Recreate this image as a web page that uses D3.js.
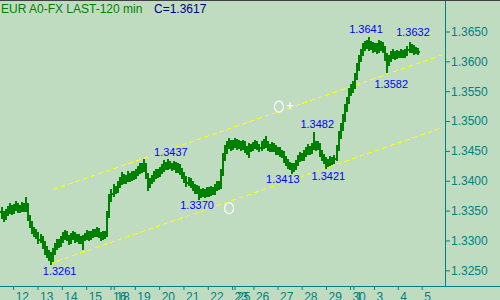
<!DOCTYPE html>
<html>
<head>
<meta charset="utf-8">
<script src="https://cdn.jsdelivr.net/npm/d3@7"></script>
<style>
  html, body { margin: 0; padding: 0; background: #c0dcc0; }
  #chart { width: 500px; height: 300px; overflow: hidden; }
  svg { display: block; }
</style>
</head>
<body>
<div id="chart"></div>
<script>
// EUR A0-FX, 120 minute bars
const opens = [
  1.3350, 1.3345, 1.3340, 1.3348, 1.3352, 1.3355, 1.3350, 1.3356, 1.3360, 1.3352,
  1.3356, 1.3358, 1.3354, 1.3360, 1.3340, 1.3328, 1.3318, 1.3315, 1.3310, 1.3302,
  1.3305, 1.3295, 1.3285, 1.3280, 1.3275, 1.3270, 1.3282, 1.3290, 1.3298, 1.3295,
  1.3302, 1.3308, 1.3312, 1.3305, 1.3300, 1.3308, 1.3310, 1.3304, 1.3306, 1.3300,
  1.3302, 1.3305, 1.3308, 1.3312, 1.3306, 1.3310, 1.3315, 1.3312, 1.3318, 1.3310,
  1.3306, 1.3312, 1.3310, 1.3345, 1.3372, 1.3380, 1.3388, 1.3385, 1.3395, 1.3400,
  1.3408, 1.3402, 1.3405, 1.3410, 1.3405, 1.3412, 1.3408, 1.3414, 1.3418, 1.3425,
  1.3420, 1.3428, 1.3410, 1.3395, 1.3400, 1.3405, 1.3410, 1.3415, 1.3412, 1.3418,
  1.3422, 1.3428, 1.3425, 1.3430, 1.3426, 1.3424, 1.3428, 1.3420, 1.3425, 1.3418,
  1.3410, 1.3405, 1.3398, 1.3402, 1.3395, 1.3390, 1.3385, 1.3388, 1.3382, 1.3378,
  1.3382, 1.3378, 1.3385, 1.3380, 1.3386, 1.3382, 1.3388, 1.3395, 1.3392, 1.3415,
  1.3440, 1.3452, 1.3460, 1.3465, 1.3458, 1.3462, 1.3466, 1.3460, 1.3462, 1.3458,
  1.3464, 1.3455, 1.3450, 1.3458, 1.3455, 1.3460, 1.3462, 1.3458, 1.3456, 1.3460,
  1.3465, 1.3462, 1.3458, 1.3455, 1.3460, 1.3456, 1.3450, 1.3452, 1.3448, 1.3445,
  1.3438, 1.3432, 1.3428, 1.3425, 1.3420, 1.3425, 1.3430, 1.3438, 1.3442, 1.3440,
  1.3446, 1.3450, 1.3455, 1.3450, 1.3458, 1.3462, 1.3458, 1.3460, 1.3448, 1.3440,
  1.3435, 1.3430, 1.3432, 1.3436, 1.3433, 1.3438, 1.3455, 1.3478, 1.3490, 1.3505,
  1.3522, 1.3535, 1.3550, 1.3555, 1.3560, 1.3575, 1.3590, 1.3605, 1.3615, 1.3625,
  1.3628, 1.3630, 1.3625, 1.3628, 1.3622, 1.3626, 1.3620, 1.3625, 1.3628, 1.3622,
  1.3610, 1.3600, 1.3605, 1.3612, 1.3615, 1.3610, 1.3614, 1.3612, 1.3616, 1.3612,
  1.3615, 1.3620, 1.3622, 1.3625, 1.3618, 1.3620
];
const highs = [
  1.3356, 1.3350, 1.3353, 1.3358, 1.3362, 1.3360, 1.3361, 1.3366, 1.3363, 1.3360,
  1.3364, 1.3362, 1.3373, 1.3362, 1.3343, 1.3332, 1.3322, 1.3320, 1.3314, 1.3310,
  1.3308, 1.3299, 1.3290, 1.3284, 1.3280, 1.3287, 1.3295, 1.3303, 1.3302, 1.3308,
  1.3314, 1.3318, 1.3316, 1.3309, 1.3312, 1.3316, 1.3314, 1.3311, 1.3310, 1.3307,
  1.3309, 1.3313, 1.3318, 1.3316, 1.3315, 1.3320, 1.3319, 1.3323, 1.3321, 1.3314,
  1.3316, 1.3316, 1.3350, 1.3378, 1.3386, 1.3394, 1.3392, 1.3400, 1.3406, 1.3414,
  1.3412, 1.3410, 1.3416, 1.3413, 1.3417, 1.3416, 1.3419, 1.3424, 1.3430, 1.3429,
  1.3437, 1.3430, 1.3413, 1.3405, 1.3410, 1.3416, 1.3420, 1.3419, 1.3423, 1.3428,
  1.3434, 1.3432, 1.3436, 1.3433, 1.3430, 1.3433, 1.3431, 1.3430, 1.3428, 1.3421,
  1.3414, 1.3408, 1.3407, 1.3405, 1.3399, 1.3394, 1.3393, 1.3391, 1.3386, 1.3388,
  1.3386, 1.3390, 1.3389, 1.3391, 1.3390, 1.3394, 1.3400, 1.3399, 1.3420, 1.3446,
  1.3460, 1.3467, 1.3471, 1.3469, 1.3468, 1.3472, 1.3470, 1.3468, 1.3466, 1.3469,
  1.3467, 1.3459, 1.3463, 1.3462, 1.3465, 1.3468, 1.3466, 1.3462, 1.3466, 1.3470,
  1.3475, 1.3466, 1.3462, 1.3465, 1.3464, 1.3460, 1.3457, 1.3456, 1.3452, 1.3449,
  1.3442, 1.3436, 1.3432, 1.3429, 1.3430, 1.3435, 1.3443, 1.3448, 1.3447, 1.3451,
  1.3456, 1.3461, 1.3459, 1.3463, 1.3482, 1.3466, 1.3467, 1.3463, 1.3452, 1.3444,
  1.3439, 1.3437, 1.3441, 1.3440, 1.3443, 1.3460, 1.3483, 1.3496, 1.3512, 1.3528,
  1.3541, 1.3556, 1.3562, 1.3567, 1.3581, 1.3597, 1.3611, 1.3621, 1.3631, 1.3634,
  1.3636, 1.3641, 1.3634, 1.3632, 1.3631, 1.3630, 1.3635, 1.3634, 1.3632, 1.3625,
  1.3614, 1.3611, 1.3618, 1.3620, 1.3618, 1.3619, 1.3618, 1.3621, 1.3619, 1.3620,
  1.3625, 1.3632, 1.3629, 1.3627, 1.3624, 1.3623
];
const lows = [
  1.3338, 1.3333, 1.3336, 1.3343, 1.3346, 1.3344, 1.3346, 1.3351, 1.3347, 1.3348,
  1.3350, 1.3349, 1.3350, 1.3335, 1.3322, 1.3312, 1.3308, 1.3304, 1.3296, 1.3297,
  1.3288, 1.3278, 1.3272, 1.3268, 1.3261, 1.3266, 1.3278, 1.3285, 1.3289, 1.3291,
  1.3297, 1.3303, 1.3300, 1.3294, 1.3296, 1.3303, 1.3298, 1.3299, 1.3295, 1.3296,
  1.3285, 1.3300, 1.3303, 1.3301, 1.3302, 1.3305, 1.3307, 1.3308, 1.3305, 1.3301,
  1.3302, 1.3304, 1.3307, 1.3340, 1.3366, 1.3375, 1.3379, 1.3381, 1.3390, 1.3395,
  1.3396, 1.3397, 1.3400, 1.3399, 1.3401, 1.3403, 1.3404, 1.3409, 1.3413, 1.3414,
  1.3416, 1.3404, 1.3385, 1.3390, 1.3396, 1.3400, 1.3405, 1.3406, 1.3408, 1.3413,
  1.3417, 1.3419, 1.3420, 1.3421, 1.3418, 1.3419, 1.3414, 1.3415, 1.3412, 1.3404,
  1.3398, 1.3392, 1.3393, 1.3389, 1.3384, 1.3379, 1.3380, 1.3370, 1.3373, 1.3374,
  1.3373, 1.3374, 1.3375, 1.3376, 1.3377, 1.3378, 1.3384, 1.3386, 1.3388, 1.3410,
  1.3435, 1.3447, 1.3455, 1.3452, 1.3453, 1.3457, 1.3454, 1.3455, 1.3452, 1.3453,
  1.3448, 1.3444, 1.3440, 1.3449, 1.3451, 1.3455, 1.3453, 1.3450, 1.3451, 1.3455,
  1.3457, 1.3452, 1.3449, 1.3450, 1.3450, 1.3444, 1.3445, 1.3442, 1.3439, 1.3432,
  1.3426, 1.3422, 1.3419, 1.3413, 1.3416, 1.3420, 1.3426, 1.3433, 1.3434, 1.3435,
  1.3441, 1.3445, 1.3444, 1.3446, 1.3453, 1.3452, 1.3453, 1.3442, 1.3434, 1.3429,
  1.3421, 1.3425, 1.3427, 1.3428, 1.3429, 1.3434, 1.3451, 1.3472, 1.3485, 1.3500,
  1.3516, 1.3530, 1.3544, 1.3549, 1.3555, 1.3570, 1.3585, 1.3600, 1.3610, 1.3619,
  1.3622, 1.3619, 1.3620, 1.3616, 1.3617, 1.3614, 1.3615, 1.3619, 1.3616, 1.3603,
  1.3582, 1.3594, 1.3600, 1.3606, 1.3604, 1.3605, 1.3607, 1.3607, 1.3607, 1.3608,
  1.3610, 1.3615, 1.3616, 1.3613, 1.3614, 1.3612
];
const closes = [
  1.3345, 1.3340, 1.3348, 1.3352, 1.3355, 1.3350, 1.3356, 1.3360, 1.3352, 1.3356,
  1.3358, 1.3354, 1.3360, 1.3340, 1.3328, 1.3318, 1.3315, 1.3310, 1.3302, 1.3305,
  1.3295, 1.3285, 1.3280, 1.3275, 1.3270, 1.3282, 1.3290, 1.3298, 1.3295, 1.3302,
  1.3308, 1.3312, 1.3305, 1.3300, 1.3308, 1.3310, 1.3304, 1.3306, 1.3300, 1.3302,
  1.3305, 1.3308, 1.3312, 1.3306, 1.3310, 1.3315, 1.3312, 1.3318, 1.3310, 1.3306,
  1.3312, 1.3310, 1.3345, 1.3372, 1.3380, 1.3388, 1.3385, 1.3395, 1.3400, 1.3408,
  1.3402, 1.3405, 1.3410, 1.3405, 1.3412, 1.3408, 1.3414, 1.3418, 1.3425, 1.3420,
  1.3428, 1.3410, 1.3395, 1.3400, 1.3405, 1.3410, 1.3415, 1.3412, 1.3418, 1.3422,
  1.3428, 1.3425, 1.3430, 1.3426, 1.3424, 1.3428, 1.3420, 1.3425, 1.3418, 1.3410,
  1.3405, 1.3398, 1.3402, 1.3395, 1.3390, 1.3385, 1.3388, 1.3382, 1.3378, 1.3382,
  1.3378, 1.3385, 1.3380, 1.3386, 1.3382, 1.3388, 1.3395, 1.3392, 1.3415, 1.3440,
  1.3452, 1.3460, 1.3465, 1.3458, 1.3462, 1.3466, 1.3460, 1.3462, 1.3458, 1.3464,
  1.3455, 1.3450, 1.3458, 1.3455, 1.3460, 1.3462, 1.3458, 1.3456, 1.3460, 1.3465,
  1.3462, 1.3458, 1.3455, 1.3460, 1.3456, 1.3450, 1.3452, 1.3448, 1.3445, 1.3438,
  1.3432, 1.3428, 1.3425, 1.3420, 1.3425, 1.3430, 1.3438, 1.3442, 1.3440, 1.3446,
  1.3450, 1.3455, 1.3450, 1.3458, 1.3462, 1.3458, 1.3460, 1.3448, 1.3440, 1.3435,
  1.3430, 1.3432, 1.3436, 1.3433, 1.3438, 1.3455, 1.3478, 1.3490, 1.3505, 1.3522,
  1.3535, 1.3550, 1.3555, 1.3560, 1.3575, 1.3590, 1.3605, 1.3615, 1.3625, 1.3628,
  1.3630, 1.3625, 1.3628, 1.3622, 1.3626, 1.3620, 1.3625, 1.3628, 1.3622, 1.3610,
  1.3600, 1.3605, 1.3612, 1.3615, 1.3610, 1.3614, 1.3612, 1.3616, 1.3612, 1.3615,
  1.3620, 1.3622, 1.3625, 1.3618, 1.3620, 1.3617
];

// day boundaries, as bar positions
const dayLabels = ['12', '13', '14', '15', '16', '18', '19', '20', '21', '22', '23',
                   '25', '26', '27', '28', '29', '30', '1', '3', '4', '5'];
const dayStarts = [6, 18, 30, 42, 54, 55.6, 66, 78, 90, 102, 114,
                   115.2, 124.5, 136.4, 148.3, 160.3, 172.1, 173.8, 184, 195.7, 207.5];

const priceTicks = [1.3250, 1.3300, 1.3350, 1.3400, 1.3450, 1.3500, 1.3550, 1.3600, 1.3650];

// marked highs / lows
const extremeBars = [24, 97, 70, 143, 160, 154, 181, 201, 190];
const extremePrices = [1.3261, 1.3370, 1.3437, 1.3413, 1.3421, 1.3482, 1.3641, 1.3632, 1.3582];

// channel lines: [bar, price] -> [bar, price]
const trendLines = [
  [[24, 1.3261], [216, 1.3487]],
  [[25.6, 1.3385], [218, 1.3611]]
];

// hand-drawn markers
const markerBars = [137.1, 112.5];
const markerPrices = [1.3524, 1.3354];
const markerPlus = [true, false];

/* layout */
const width = 500;
const height = 300;
const axisX = 445;
const axisY = 286;
const bg = '#c0dcc0';
const teal = '#008080';
const font = '"Liberation Sans", Arial, sans-serif';
// label offsets from the marked bar (px)
const labelDx = [10, -0.6, 28, -8, 3, 4, -2, 4.5, 5];
const labelDy = [11.3, 10.8, -2.7, 10.5, 12, -3.3, -3.4, -6.5, 16];

const svg = d3.select('#chart')
    .append('svg')
    .attr('width', width)
    .attr('height', height)
    .attr('viewBox', `0 0 ${width} ${height}`)
    .style('font-family', font);

svg.append('rect')
    .attr('width', width)
    .attr('height', height)
    .attr('fill', bg);

const x = d3.scaleLinear().domain([0, 219]).range([1, axisX]);
const y = d3.scaleLinear().domain([1.3250, 1.3650]).range([270.3, 31.5]);

/* channel lines */
svg.append('g')
    .attr('shape-rendering', 'crispEdges')
    .selectAll('line')
    .data(trendLines)
    .join('line')
    .attr('x1', d => x(d[0][0]))
    .attr('y1', d => y(d[0][1]))
    .attr('x2', d => x(d[1][0]))
    .attr('y2', d => y(d[1][1]))
    .attr('stroke', '#ffff00')
    .attr('stroke-width', 1)
    .attr('stroke-dasharray', '5,3');

/* price bars */
const bars = closes.map((c, i) => ({ i, o: opens[i], h: highs[i], l: lows[i], c }));
const px = d => Math.round(x(d.i));
const py = v => Math.round(y(v));

const barG = svg.append('g')
    .attr('fill', '#008000')
    .attr('shape-rendering', 'crispEdges');

// high-low stroke
barG.selectAll('rect.hl')
    .data(bars)
    .join('rect')
    .attr('class', 'hl')
    .attr('x', px)
    .attr('width', 2)
    .attr('y', d => py(d.h))
    .attr('height', d => py(d.l) - py(d.h) + 1);

// open tick (left) and close tick (right)
barG.selectAll('rect.op')
    .data(bars)
    .join('rect')
    .attr('class', 'op')
    .attr('x', d => px(d) - 1)
    .attr('width', 1)
    .attr('y', d => py(d.o))
    .attr('height', 2);

barG.selectAll('rect.cl')
    .data(bars)
    .join('rect')
    .attr('class', 'cl')
    .attr('x', d => px(d) + 2)
    .attr('width', 1)
    .attr('y', d => py(d.c))
    .attr('height', 2);

/* high / low labels, boxed so the channel lines stop behind them */
const labels = svg.append('g');
extremeBars.forEach((b, k) => {
    const lg = labels.append('g');
    const t = lg.append('text')
        .attr('x', x(b) + labelDx[k])
        .attr('y', y(extremePrices[k]) + labelDy[k])
        .attr('text-anchor', 'middle')
        .attr('font-size', 11)
        .attr('fill', '#0000ff')
        .text(extremePrices[k].toFixed(4));
    const bb = t.node().getBBox();
    lg.insert('rect', 'text')
        .attr('x', bb.x - 1)
        .attr('y', bb.y + 1)
        .attr('width', bb.width + 2)
        .attr('height', bb.height - 2)
        .attr('fill', bg);
});

/* markers */
markerBars.forEach((b, k) => {
    const cx = x(b);
    const cy = y(markerPrices[k]);
    svg.append('ellipse')
        .attr('cx', cx)
        .attr('cy', cy)
        .attr('rx', 4.5)
        .attr('ry', 5.5)
        .attr('fill', bg)
        .attr('stroke', '#ffffff')
        .attr('stroke-width', 1.2);
    if (markerPlus[k]) {
        svg.append('path')
            .attr('d', `M${cx + 7.5},${cy - 1}h7M${cx + 11},${cy - 4.5}v7`)
            .attr('stroke', '#ffffff')
            .attr('stroke-width', 1.2);
    }
});

/* right price axis */
const yAxis = svg.append('g')
    .attr('transform', `translate(${axisX},0)`)
    .call(d3.axisRight(y)
        .tickValues(priceTicks)
        .tickFormat(d3.format('.4f'))
        .tickSize(5)
        .tickPadding(1));
yAxis.select('.domain').remove();
yAxis.selectAll('line').attr('stroke', teal);
yAxis.selectAll('text')
    .attr('fill', teal)
    .attr('font-size', 12)
    .attr('font-family', font);

svg.append('line')
    .attr('x1', axisX + 0.5)
    .attr('x2', axisX + 0.5)
    .attr('y1', 0)
    .attr('y2', axisY)
    .attr('stroke', teal);

/* bottom date axis */
const xAxis = svg.append('g')
    .attr('transform', `translate(0,${axisY})`)
    .call(d3.axisBottom(x)
        .tickValues(dayStarts)
        .tickFormat((d, i) => dayLabels[i])
        .tickSize(4)
        .tickPadding(2));
xAxis.select('.domain').remove();
xAxis.selectAll('line').attr('stroke', teal);
xAxis.selectAll('text')
    .attr('fill', teal)
    .attr('font-size', 12)
    .attr('font-family', font)
    .attr('text-anchor', 'start')
    .attr('x', 2);

svg.append('line')
    .attr('x1', 0)
    .attr('x2', width)
    .attr('y1', axisY + 0.5)
    .attr('y2', axisY + 0.5)
    .attr('stroke', teal);

// top border
svg.append('line')
    .attr('x1', 0)
    .attr('x2', width)
    .attr('y1', 0.5)
    .attr('y2', 0.5)
    .attr('stroke', '#404040');

/* title */
svg.append('text')
    .attr('x', 1)
    .attr('y', 13)
    .attr('font-size', 12)
    .attr('fill', '#008000')
    .text('EUR A0-FX LAST-120 min');

svg.append('text')
    .attr('x', 154)
    .attr('y', 13)
    .attr('font-size', 12)
    .attr('fill', '#000080')
    .text('C=' + closes[closes.length - 1].toFixed(4));
</script>
</body>
</html>
